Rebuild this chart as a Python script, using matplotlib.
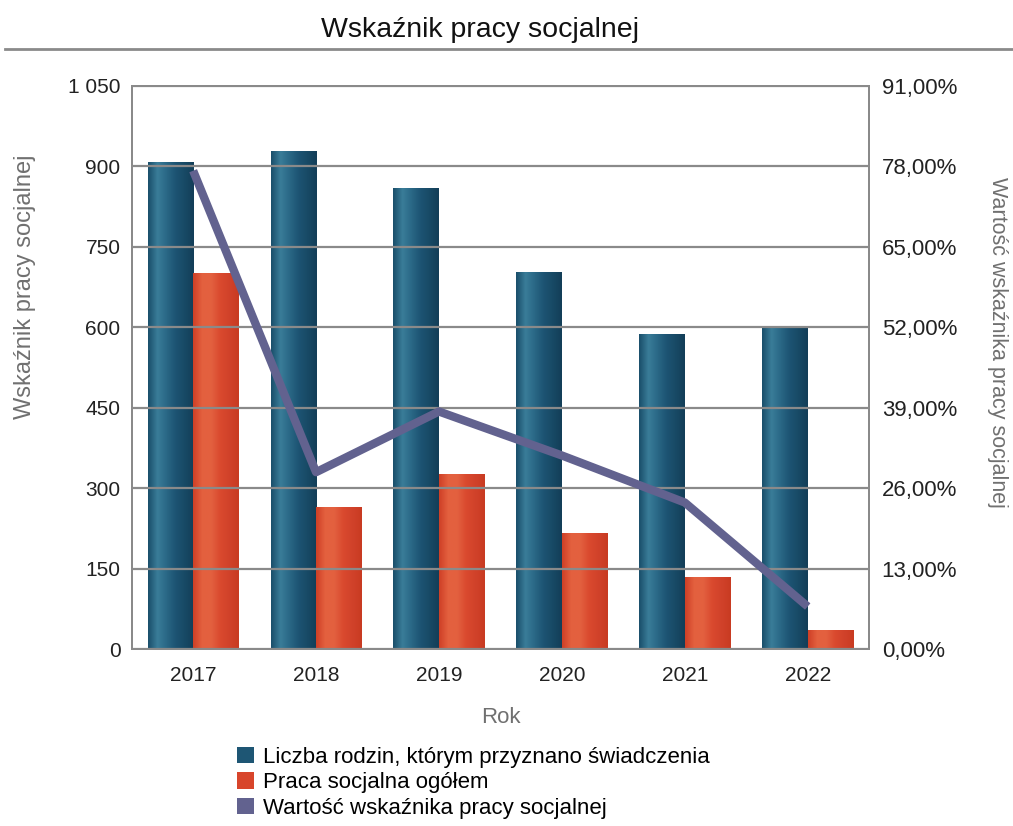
import numpy as np
import matplotlib
matplotlib.use("Agg")
import matplotlib.pyplot as plt
from matplotlib.patches import Patch
from matplotlib.lines import Line2D
from matplotlib.colors import LinearSegmentedColormap

plt.rcParams["font.family"] = ["Liberation Sans", "DejaVu Sans"]

# Data
years = ["2017", "2018", "2019", "2020", "2021", "2022"]
rodziny = [906, 928, 858, 702, 587, 600]
praca = [700, 264, 326, 216, 134, 34]
wskaznik = [77.3, 28.6, 38.4, 31.3, 23.7, 6.9]

left_ticks = [0, 150, 300, 450, 600, 750, 900, 1050]
right_ticks = [0, 13, 26, 39, 52, 65, 78, 91]

TEAL = "#1e5674"
RED = "#d8452b"
LINE = "#62628f"
GRID = "#8a8a8a"

teal_cmap = LinearSegmentedColormap.from_list(
    "teal", ["#1a4f6b", "#3a7d99", "#2a6886", "#1d5473", "#184a66", "#133e58"]
)
red_cmap = LinearSegmentedColormap.from_list(
    "red", ["#cf4027", "#e4613f", "#e3603f", "#d9492e", "#d1422a", "#c83b22"]
)


def shade_bars(ax, bars, cmap):
    """Paint a horizontal gradient over each bar to mimic the cylinder look"""
    grad = np.linspace(0, 1, 64).reshape(1, -1)
    for b in bars:
        x0, w, h = b.get_x(), b.get_width(), b.get_height()
        ax.imshow(grad, cmap=cmap, aspect="auto", extent=(x0, x0 + w, 0, h),
                  zorder=b.get_zorder() + 0.1, interpolation="bicubic")


fig = plt.figure(figsize=(10.13, 8.26), dpi=100)
ax = fig.add_axes([0.130, 0.214, 0.728, 0.682])

x = np.arange(len(years))
w = 0.37
b1 = ax.bar(x - w / 2, rodziny, w, color=TEAL, zorder=2)
b2 = ax.bar(x + w / 2, praca, w, color=RED, zorder=2)
shade_bars(ax, b1, teal_cmap)
shade_bars(ax, b2, red_cmap)

ax.set_xlim(-0.5, 5.5)
ax.set_ylim(0, 1050)
ax.set_yticks(left_ticks)
ax.set_yticklabels([f"{v:,}".replace(",", " ") for v in left_ticks])
ax.set_xticks(x)
ax.set_xticklabels(years)
ax.tick_params(axis="both", length=0, labelsize=15, colors="#222222")
ax.tick_params(axis="y", pad=8)
ax.tick_params(axis="x", pad=12)
ax.set_xlabel("Rok", fontsize=16, color="#707070", labelpad=16)

ax2 = ax.twinx()
ax2.set_ylim(0, 91)
ax2.set_yticks(right_ticks)
ax2.set_yticklabels([f"{v:.2f}%".replace(".", ",") for v in right_ticks])
ax2.tick_params(axis="y", length=0, labelsize=16, colors="#222222", pad=9)
ax2.grid(axis="y", color=GRID, linewidth=1.6, zorder=1)
ax2.plot(x, wskaznik, color=LINE, linewidth=6, solid_capstyle="butt", zorder=3)

for a in (ax, ax2):
    for s in a.spines.values():
        s.set_color(GRID)
        s.set_linewidth(1.4)

# axis titles placed where they sit in the original, not centred on the axes
fig.text(25 / 1013, 1 - 287 / 826, "Wskaźnik pracy socjalnej", rotation=90,
         ha="center", va="center", fontsize=17, color="#707070")
fig.text(997 / 1013, 1 - 342 / 826, "Wartość wskaźnika pracy socjalnej",
         rotation=270, ha="center", va="center", fontsize=15.5, color="#707070")

fig.text(480 / 1013, 1 - 30 / 826, "Wskaźnik pracy socjalnej", ha="center",
         va="center", fontsize=20.5, color="#111111")
fig.add_artist(Line2D([0.005, 1.0], [0.941, 0.941], color="#8a8a8a", linewidth=2))

handles = [
    Patch(facecolor=TEAL, edgecolor="none"),
    Patch(facecolor=RED, edgecolor="none"),
    Patch(facecolor=LINE, edgecolor="none"),
]
labels = [
    "Liczba rodzin, którym przyznano świadczenia",
    "Praca socjalna ogółem",
    "Wartość wskaźnika pracy socjalnej",
]
fig.legend(handles, labels, loc="upper left", bbox_to_anchor=(0.234, 0.096),
           bbox_transform=fig.transFigure, frameon=False, fontsize=16,
           handlelength=0.75, handleheight=0.75, handletextpad=0.4,
           labelspacing=0.2, borderaxespad=0, borderpad=0)

fig.savefig("out.png", dpi=100)
